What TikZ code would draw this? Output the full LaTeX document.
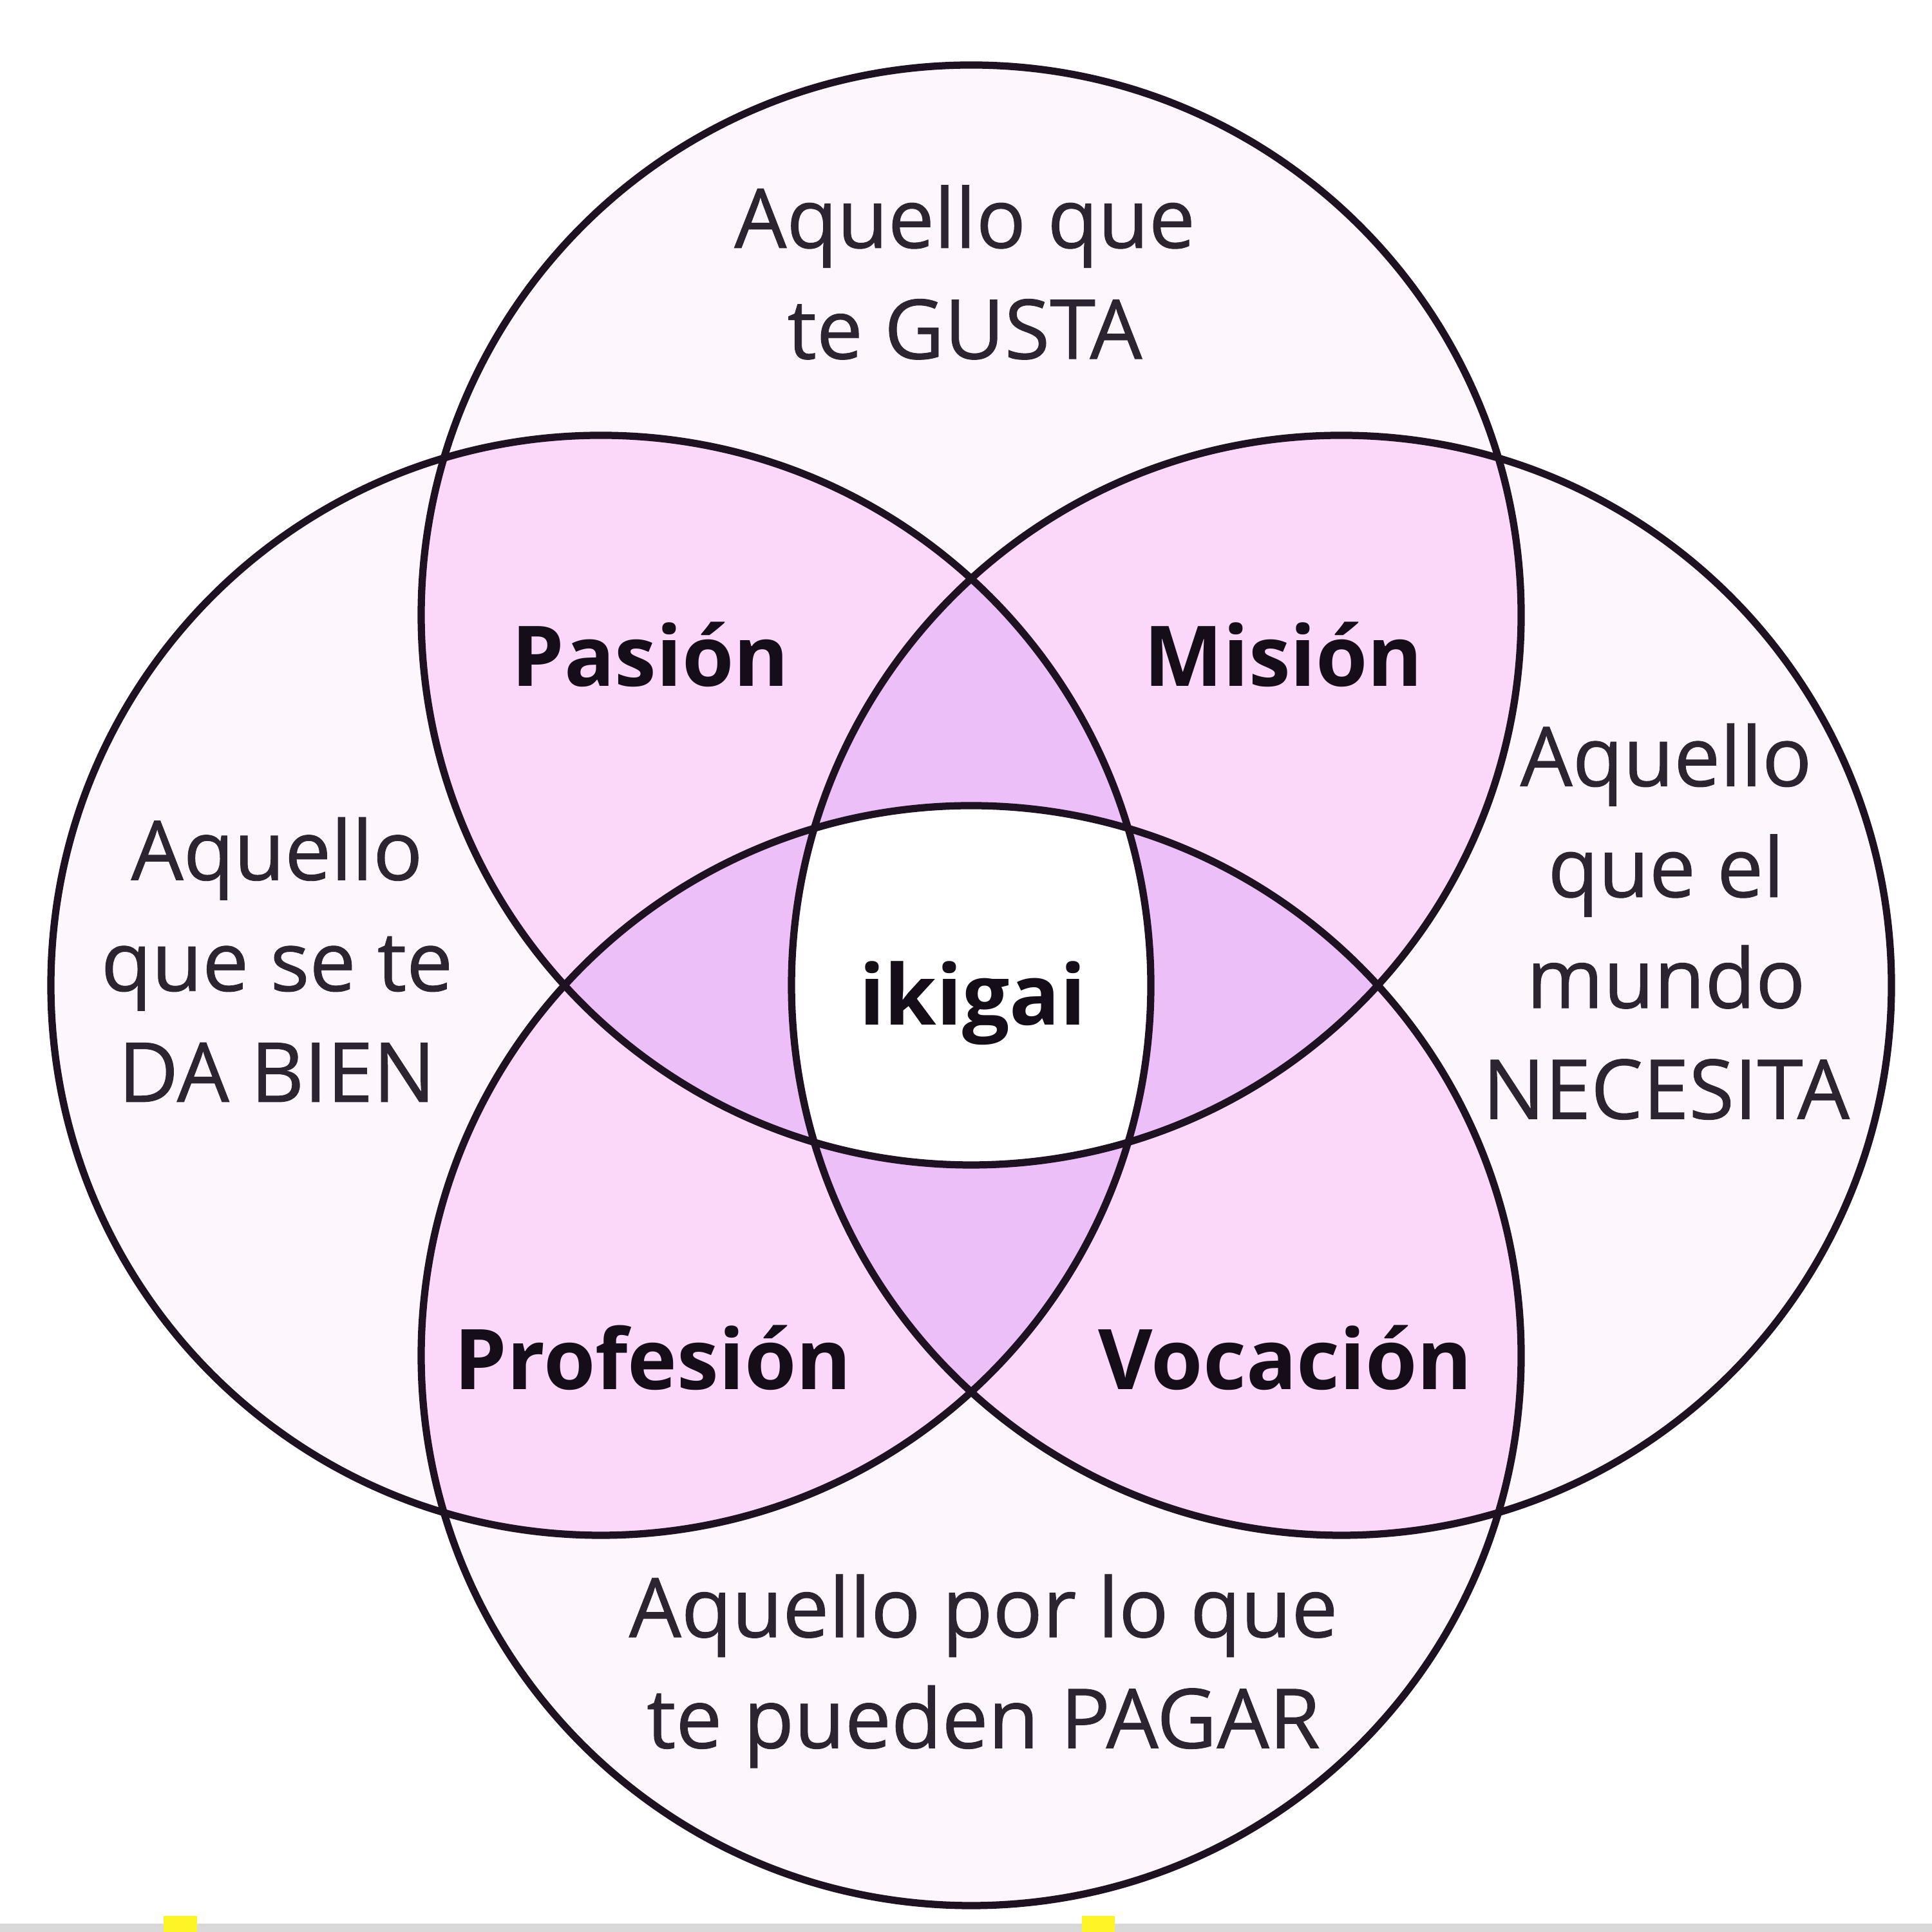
\documentclass[tikz,border=0pt]{standalone}
\usepackage{fontspec}
\setmainfont{Open Sans}
\newfontfamily\areafont{Open Sans}[FakeBold=0.7]
\usepackage{tikz}
\usetikzlibrary{calc}
\usetikzlibrary{positioning}
\tikzset{>=stealth}

\definecolor{onecol}{HTML}{FDF6FC}
\definecolor{twocol}{HTML}{FBD8F9}
\definecolor{threecol}{HTML}{EDBFF9}
\definecolor{ringline}{HTML}{1E1222}
\definecolor{softtext}{HTML}{2C2430}
\definecolor{darktext}{HTML}{150D18}

\tikzset{
  ring/.style={draw=ringline, line width=3.2pt},
  areatext/.style={text=softtext, font=\areafont\fontsize{36.5}{49}\selectfont, align=center, inner sep=0pt},
  titletext/.style={text=darktext, font=\fontsize{37}{49}\selectfont\bfseries, inner sep=0pt, anchor=base},
}
\def\ringr{8.54}

\begin{document}
\begin{tikzpicture}
				\fill[white] (0,0) rectangle (30,30);
				\useasboundingbox (0,0) rectangle (30,30);
				\fill[gray!30] (0,0) rectangle (30,0.13);
				\fill[yellow!85] (2.54,0) rectangle (3.06,0.25);
				\fill[yellow!85] (16.80,0) rectangle (17.31,0.25);

				\coordinate (cTop) at (15.08,20.45);
				\coordinate (cBot) at (15.08,8.95);
				\coordinate (cLeft) at (9.33,14.70);
				\coordinate (cRight) at (20.83,14.70);

				% one circle
				\fill[onecol] (cTop) circle (\ringr);
				\fill[onecol] (cBot) circle (\ringr);
				\fill[onecol] (cLeft) circle (\ringr);
				\fill[onecol] (cRight) circle (\ringr);

				% two circles
				\begin{scope}
					\clip (cTop) circle (\ringr);
					\fill[twocol] (cLeft) circle (\ringr);
					\fill[twocol] (cRight) circle (\ringr);
				\end{scope}
				\begin{scope}
					\clip (cBot) circle (\ringr);
					\fill[twocol] (cLeft) circle (\ringr);
					\fill[twocol] (cRight) circle (\ringr);
				\end{scope}

				% three circles
				\begin{scope}
					\clip (cTop) circle (\ringr);
					\clip (cLeft) circle (\ringr);
					\fill[threecol] (cRight) circle (\ringr);
					\fill[threecol] (cBot) circle (\ringr);
				\end{scope}
				\begin{scope}
					\clip (cBot) circle (\ringr);
					\clip (cRight) circle (\ringr);
					\fill[threecol] (cLeft) circle (\ringr);
					\fill[threecol] (cTop) circle (\ringr);
				\end{scope}

				% all four
				\begin{scope}
					\clip (cTop) circle (\ringr);
					\clip (cLeft) circle (\ringr);
					\clip (cRight) circle (\ringr);
					\fill[white] (cBot) circle (\ringr);
				\end{scope}

				\draw[ring] (cTop) circle (\ringr);
				\draw[ring] (cBot) circle (\ringr);
				\draw[ring] (cLeft) circle (\ringr);
				\draw[ring] (cRight) circle (\ringr);

				\draw (14.98,25.77) node (gusta) [areatext] {Aquello que\\te GUSTA};
				\draw (4.30,15.10) node (bien) [areatext] {Aquello\\que se te\\DA BIEN};
				\draw (25.87,15.69) node (necesita) [areatext] {Aquello\\que el\\mundo\\NECESITA};
				\draw (15.27,4.05) node (pagar) [areatext] {Aquello por lo que\\te pueden PAGAR};

				\draw (10.10,19.34) node (pasion) [titletext] {Pasión};
				\draw (19.93,19.34) node (mision) [titletext] {Misión};
				\draw (10.14,8.42) node (profesion) [titletext] {Profesión};
				\draw (19.96,8.42) node (vocacion) [titletext] {Vocación};
				\draw (15.10,14.08) node (ikigai) [titletext] {ikigai};
			\end{tikzpicture}
\end{document}
